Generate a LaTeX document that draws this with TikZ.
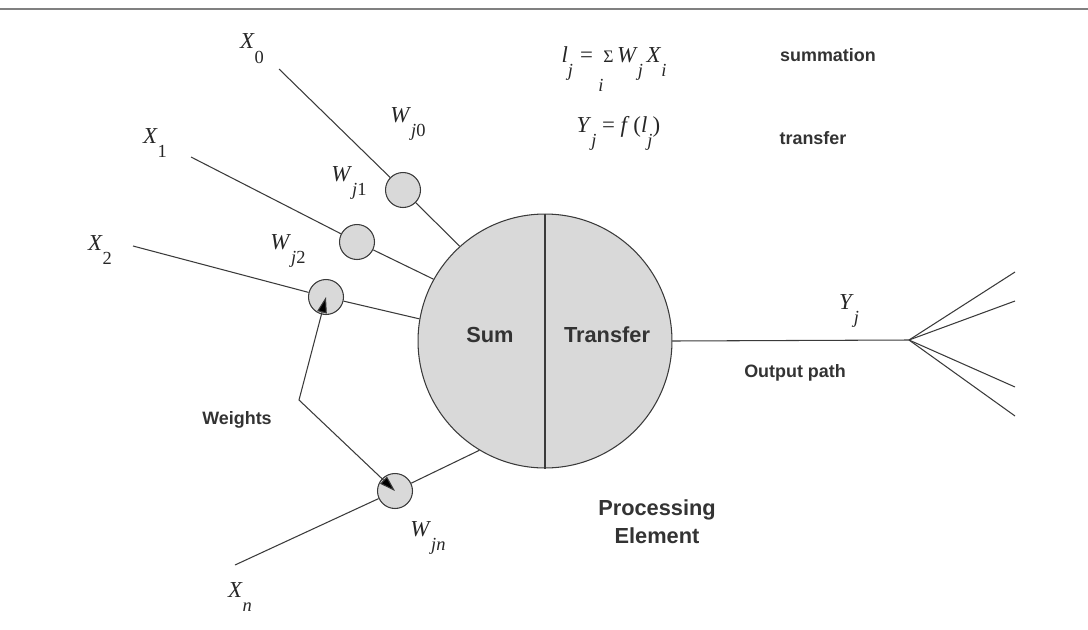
\documentclass[tikz,border=0pt]{standalone}
\usepackage{fontspec}
\setmainfont{Liberation Serif}
\setsansfont{Liberation Sans}
\usepackage{tikz}
\usetikzlibrary{positioning, arrows.meta}
\definecolor{pegray}{HTML}{D9D9D9}
\definecolor{inkgray}{HTML}{3A3A3A}
\newcommand{\lowsub}[2]{\textit{#1}\raisebox{-8.5pt}{\fontsize{10.5}{10.5}\selectfont #2}}
\newcommand{\sumover}[1]{\makebox[0pt][r]{\raisebox{-17pt}{\fontsize{10.5}{10.5}\selectfont\textit{#1}}}{\fontsize{10}{10}\selectfont Σ}}

\begin{document}
\begin{tikzpicture}[x=0.02cm, y=-0.02cm, line width=0.6pt, color=inkgray,
  weight/.style={circle, draw=inkgray, fill=pegray, minimum size=0.7cm, inner sep=0pt},
  symb/.style={font=\fontsize{13}{15}\selectfont, text=black!85, inner sep=0pt},
  tag/.style={font=\sffamily\bfseries\fontsize{10.2}{12}\selectfont, text=black!80, inner sep=0pt},
  bigtag/.style={font=\sffamily\bfseries\fontsize{12.4}{16}\selectfont, text=black!80, inner sep=0pt, align=center},
  wtarrow/.style={{Triangle[length=9pt,width=5.5pt,fill=black]}-{Triangle[length=9pt,width=5.5pt,fill=black]}}]
  \useasboundingbox (0,0) rectangle (1088,629);
  \draw[gray] (0,9) -- (1088,9);

  % processing element
  \node[circle, draw=inkgray, fill=pegray, minimum size=5.08cm] (pe) at (545,341) {};
  \draw (pe.north) -- (pe.south);
  \node[bigtag] (sum) at (490,335) {Sum};
  \node[bigtag] (transfer) at (607,335) {Transfer};
  \node[bigtag] (pelab) at (657,522) {Processing\\Element};

  % weights
  \node[weight] (w0) at (403,190) {};
  \node[weight] (w1) at (357,242) {};
  \node[weight] (w2) at (326,297) {};
  \node[weight] (wn) at (395,491) {};
  \node[symb] (w0lab) at (408,124) {\lowsub{W}{\textit{j}0}};
  \node[symb] (w1lab) at (349,183) {\lowsub{W}{\textit{j}1}};
  \node[symb] (w2lab) at (288,251) {\lowsub{W}{\textit{j}2}};
  \node[symb] (wnlab) at (428,538) {\lowsub{W}{\textit{jn}}};

  % inputs
  \coordinate (x0e) at (279,69);
  \coordinate (x1e) at (191,157);
  \coordinate (x2e) at (133,246);
  \coordinate (xne) at (235,565);
  \draw (x0e) -- (w0) -- (pe.132);
  \draw (x1e) -- (w1) -- (pe.151);
  \draw (x2e) -- (w2) -- (pe.170);
  \draw (xne) -- (wn) -- (pe.239);
  \node[symb] (x0) at (252,49) {\lowsub{X}{0}};
  \node[symb] (x1) at (155,143) {\lowsub{X}{1}};
  \node[symb] (x2) at (100,250) {\lowsub{X}{2}};
  \node[symb] (xn) at (240,597) {\lowsub{X}{\textit{n}}};

  \coordinate (bend) at (299,400);
  \draw[wtarrow] (w2.center) -- (bend) -- (wn.center);
  \node[tag] (wlab) at (237,420) {Weights};

  % output path
  \coordinate (fan) at (909,340);
  \draw (pe.east) -- (fan);
  \foreach \yy [count=\k] in {272,301,387,416}{
    \coordinate (out\k) at (1015,\yy);
    \draw (fan) -- (out\k);
  }
  \node[symb] (yj) at (849,311) {\lowsub{Y}{\textit{j}}};
  \node[tag] (outlab) at (795,373) {Output path};

  % equations
  \node[symb, anchor=base west] (sumeq) at (561,62)
    {\lowsub{l}{\textit{j}}\hspace{4pt}=\hspace{6pt}\sumover{i}\hspace{2pt}\lowsub{W}{\textit{j}}\hspace{2pt}\lowsub{X}{\textit{i}}};
  \node[symb, anchor=base west] (transeq) at (576,132)
    {\lowsub{Y}{\textit{j}} = \textit{f}\,(\lowsub{l}{\textit{j}})};
  \node[tag] (sumlab) at (828,55) {summation};
  \node[tag] (translab) at (813,138) {transfer};
\end{tikzpicture}
\end{document}
